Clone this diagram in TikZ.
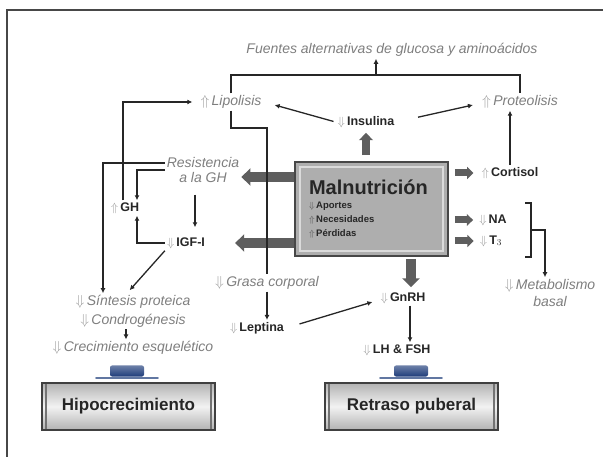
\documentclass[tikz,border=0pt]{standalone}
\usepackage{fontspec}
\setmainfont{Liberation Sans}
\usepackage{xcolor}
\usetikzlibrary{positioning,arrows.meta,calc}
\definecolor{ink}{HTML}{262626}
\definecolor{soft}{HTML}{7E7E7E}
\definecolor{arrg}{HTML}{9C9C9C}
\definecolor{blockg}{HTML}{5E5E5E}
\definecolor{boxg}{HTML}{AEAEAE}
\definecolor{capblue}{HTML}{1E3C7A}
\newcommand{\sube}{{\color{arrg}$\Uparrow$}\,}
\newcommand{\baja}{{\color{arrg}$\Downarrow$}\,}
\newcommand{\osube}{{\color{ink!80}$\Uparrow$}\,}
\newcommand{\obaja}{{\color{ink!80}$\Downarrow$}\,}

\begin{document}
\begin{tikzpicture}[x=1pt,y=-1pt,
  lbl/.style={font=\fontsize{14}{15.5}\selectfont\itshape,text=soft,inner sep=2pt},
  horm/.style={font=\fontsize{12.5}{14}\selectfont\bfseries,text=ink,inner sep=2pt},
  flow/.style={-{Latex[length=5pt,width=5pt]},line width=1.3pt,ink},
  link/.style={line width=1.3pt,ink},
  blk/.style={-{Triangle[length=0pt 0.9,width=0pt 1.7]},line width=#1,blockg},
  blk/.default=10pt,
  mainbox/.style={draw=ink!85,line width=1.6pt,fill=boxg,minimum width=153pt,
                  minimum height=94pt,text width=125pt,align=left,inner sep=0pt,
                  font=\fontsize{9.5}{14}\selectfont\bfseries,text=ink,
                  path picture={\draw[white!55!boxg,line width=2pt]
                    ([shift={(5pt,-5pt)}]path picture bounding box.north west) rectangle
                    ([shift={(-5pt,5pt)}]path picture bounding box.south east);}},
  outcome/.style={draw=black!75,line width=1.8pt,top color=gray!60,bottom color=gray!60,
                  middle color=gray!10,minimum width=173pt,minimum height=47pt,
                  font=\fontsize{17}{20}\selectfont\bfseries,text=black!85,
                  path picture={\draw[black!55,line width=2.5pt]
                    ([xshift=4pt]path picture bounding box.north west) --
                    ([xshift=4pt]path picture bounding box.south west)
                    ([xshift=-4pt]path picture bounding box.north east) --
                    ([xshift=-4pt]path picture bounding box.south east);}},
  capn/.style={top color=capblue!65,bottom color=capblue,rounded corners=2pt,
               minimum width=34pt,minimum height=11pt,inner sep=0pt},
]
\useasboundingbox (0,0) rectangle (603,457);
\draw[ink!85,line width=1.6pt] (7,457) -- (7,10) -- (603,10);

% top row
\node[lbl] (fuentes) at (392,50) {Fuentes alternativas de glucosa y aminoácidos};
\node[lbl] (lipo) at (231,102) {\sube Lipolisis};
\node[lbl] (prot) at (520,102) {\sube Proteolisis};
\node[horm] (insul) at (366,122) {\baja Insulina};

% central box
\node[mainbox] (maln) at (371.5,209)
  {{\fontsize{20}{24}\selectfont Malnutrición}\\\obaja Aportes\\\osube Necesidades\\\osube Pérdidas};

% right side
\node[horm] (cort) at (510,173) {\sube Cortisol};
\node[horm] (na) at (493,220) {\baja NA};
\node[horm] (tthree) at (491,241) {\baja T$_3$};
\node[lbl,align=center,font=\fontsize{14}{17}\selectfont\itshape] (metab) at (550,293)
  {\baja Metabolismo\\basal};

% left side
\node[lbl,align=center,font=\fontsize{14}{14.5}\selectfont\itshape] (resist) at (203,170)
  {Resistencia\\a la GH};
\node[horm] (gh) at (125,208) {\sube GH};
\node[horm] (igf) at (186,243) {\baja IGF-I};
\node[lbl] (sint) at (133,302) {\baja Síntesis proteica};
\node[lbl,below=1pt of sint] (cond) {\baja Condrogénesis};
\node[lbl,below=10pt of cond] (crec) {\baja Crecimiento esquelético};

% middle column
\node[lbl] (grasa) at (267,283) {\baja Grasa corporal};
\node[horm] (lepn) at (257,328) {\baja Leptina};
\node[horm] (gnrh) at (403,298) {\baja GnRH};
\node[horm] (lhfsh) at (397,350) {\baja LH \& FSH};

% outcomes
\node[outcome] (hipo) at (128.5,406.5) {Hipocrecimiento};
\node[outcome] (retr) at (411.5,406.5) {Retraso puberal};
\node[capn] (capa) at (127,371) {};
\node[capn] (capb) at (411,371) {};
\draw[capblue!70,line width=1.6pt,line cap=round]
  ([xshift=-31pt,yshift=-1pt]capa.south) -- ([xshift=31pt,yshift=-1pt]capa.south);
\draw[capblue!70,line width=1.6pt,line cap=round]
  ([xshift=-31pt,yshift=-1pt]capb.south) -- ([xshift=31pt,yshift=-1pt]capb.south);

% block arrows out of the box
\draw[blk=8pt,shorten <=6pt,shorten >=3pt] (maln.north -| insul) -- (insul.south);
\draw[blk] ([yshift=-7pt]maln.west |- resist.east) -- ([yshift=-7pt]resist.east);
\draw[blk,shorten >=28pt] (maln.west |- igf.east) -- (igf.east);
\draw[blk=7pt,shorten <=6pt,shorten >=6pt] (maln.east |- cort.west) -- (cort.west);
\draw[blk=7pt,shorten <=6pt,shorten >=4pt] (maln.east |- na.west) -- (na.west);
\draw[blk=7pt,shorten <=6pt,shorten >=4pt] (maln.east |- tthree.west) -- (tthree.west);
\draw[blk,shorten <=2pt,shorten >=3pt] ([xshift=8pt]maln.south -| gnrh.north) -- ([xshift=8pt]gnrh.north);

% bracket to the alternative sources
\coordinate (brtop) at (376,75);
\draw[link] (lipo.north) |- (brtop) -| (prot.north);
\draw[flow] (brtop) -- (brtop |- fuentes.south);
\draw[flow,shorten <=2pt] (insul.west) -- ([xshift=11pt,yshift=-3pt]lipo.east);
\draw[flow,shorten <=22pt] (insul.east) -- ([xshift=-7pt,yshift=-3pt]prot.west);
\draw[flow] (cort.north) -- (cort.north |- prot.south);

% NA / T3 bracket
\coordinate (brka) at (525,203);
\coordinate (brkb) at (525,257);
\coordinate (brkm) at (531,230);
\draw[link] (brka) -- ++(6,0) |- (brkb);
\draw[flow] (brkm) -| ([xshift=-5pt]metab.north);

% GH axis
\draw[flow,shorten <=10pt,shorten >=8pt] ([xshift=-8pt]resist.south) -- ([xshift=-8pt]resist.south |- igf.north);
\draw[flow] (igf.west) -| ([xshift=12pt]gh.south);
\draw[flow] (resist.west) -| ([xshift=12pt]gh.north);
\draw[flow] ([yshift=7pt]resist.west) -| ([xshift=-30pt]sint.north);
\draw[flow,shorten >=6pt] ([xshift=-2pt]gh.north) |- (lipo.west);
\draw[flow,shorten >=4pt] (igf.south west) -- ([xshift=-6pt]sint.north);
\draw[flow] ([xshift=-7pt]cond.south) -- ([xshift=-7pt]crec.north);

% fat, leptin and gonadal axis
\coordinate (lipok) at (267,128);
\draw[link] (lipo.south) |- (lipok) -- (grasa.north);
\draw[flow] (grasa.south) -- (grasa.south |- lepn.north);
\draw[flow,shorten <=14pt] (lepn.east) -- ([xshift=-6pt,yshift=-4pt]gnrh.west);
\draw[flow] ([xshift=7pt]gnrh.south) -- ([xshift=7pt]gnrh.south |- lhfsh.north);
\end{tikzpicture}
\end{document}
